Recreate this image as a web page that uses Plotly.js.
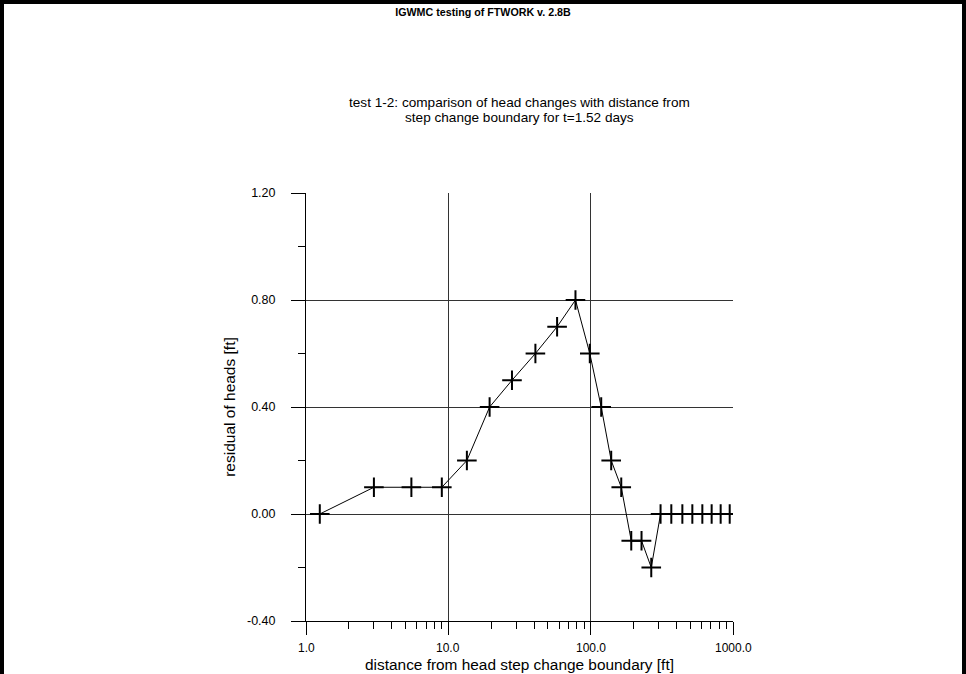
<!DOCTYPE html>
<html>
<head>
<meta charset="utf-8">
<script src="https://cdn.plot.ly/plotly-3.0.1.min.js"></script>
<style>
  html, body { margin: 0; padding: 0; background: #fff; }
  #wrap { position: relative; width: 966px; height: 674px; overflow: hidden; }
  #chart { width: 966px; height: 674px; }
  #frame { position: absolute; left: 0; top: 0; width: 966px; height: 700px; box-sizing: border-box;
           border: 4px solid #000; pointer-events: none; }
</style>
</head>
<body>
<div id="wrap">
  <div id="chart"></div>
  <div id="frame"></div>
</div>
<script>
// distance from head step change boundary [ft]
const distance = [1.25, 3.0, 5.5, 9.0, 13.5, 19.5, 28.0, 40.9, 58.1, 78.2, 98.6, 118.6, 139.4, 164, 192.8, 227.7, 266.5, 309.8, 368.6, 440.8, 518, 609, 708, 819, 948, 1110];
// residual of heads [ft]
const residual = [0.0, 0.1, 0.1, 0.1, 0.2, 0.4, 0.5, 0.6, 0.7, 0.8, 0.6, 0.4, 0.2, 0.1, -0.1, -0.1, -0.2, 0.0, 0.0, 0.0, 0.0, 0.0, 0.0, 0.0, 0.0, 0.0];

const xTickVals = [1, 10, 100, 1000];
const xTickText = ["1.0", "10.0", "100.0", "1000.0"];
const yTickVals = [-0.4, 0.0, 0.4, 0.8, 1.2];
const yTickText = ["-0.40", "0.00", "0.40", "0.80", "1.20"];

const mainTitle = "IGWMC testing of FTWORK v. 2.8B";
const subTitleLines = ["test 1-2: comparison of head changes with distance from", "step change boundary for t=1.52 days"];
const xTitle = "distance from head step change boundary [ft]";
const yTitle = "residual of heads [ft]";

const FONT = "Liberation Sans, Arial, sans-serif";

const trace = {
  x: distance,
  y: residual,
  type: "scatter",
  mode: "lines+markers",
  line: { color: "#000", width: 1 },
  marker: { symbol: "cross-thin", size: 14, color: "#000", line: { color: "#000", width: 2 } },
  cliponaxis: true,
  hoverinfo: "x+y"
};

const subY = [103, 117];
const annotations = subTitleLines.map((t, i) => ({
  text: t,
  xref: "paper", yref: "paper", x: 0.5, y: 1 + (193 - subY[i]) / 428,
  xanchor: "center", yanchor: "middle", showarrow: false,
  font: { family: FONT, size: 13.6, color: "#000" }, align: "center"
}));
// x tick labels placed through the x axis scale (log axis: position in log10 units)
xTickVals.forEach((v, i) => annotations.push({
  text: xTickText[i],
  xref: "x", yref: "paper", x: Math.log10(v), y: 0,
  xanchor: "center", yanchor: "middle", yshift: -27, showarrow: false,
  font: { family: FONT, size: 12, color: "#000" }
}));

const layout = {
  width: 966, height: 674,
  margin: { l: 306, r: 233, t: 193, b: 53 },
  paper_bgcolor: "#fff", plot_bgcolor: "#fff",
  showlegend: false,
  font: { family: FONT, color: "#000", size: 12 },
  title: {
    text: "<b>" + mainTitle + "</b>",
    font: { family: FONT, size: 10.7, color: "#000" },
    x: 0.5, xref: "container", xanchor: "center",
    y: 1 - 12 / 674, yref: "container", yanchor: "middle"
  },
  annotations: annotations,
  xaxis: {
    type: "log",
    range: [0, 3],
    tickvals: xTickVals,
    showticklabels: false,
    ticks: "outside", ticklen: 13, tickwidth: 1, tickcolor: "#000",
    showline: true, linecolor: "#000", linewidth: 1,
    showgrid: true, gridcolor: "#333", gridwidth: 1,
    zeroline: false,
    minor: { ticks: "outside", ticklen: 7, tickcolor: "#000", tickwidth: 1, dtick: "D1", showgrid: false },
    title: { text: xTitle, font: { family: FONT, size: 15.4, color: "#000" }, standoff: 25 }
  },
  yaxis: {
    range: [-0.4, 1.2],
    tickvals: yTickVals, ticktext: yTickText,
    ticks: "outside", ticklen: 14, tickwidth: 1, tickcolor: "#000",
    ticklabelstandoff: 13,
    showline: true, linecolor: "#000", linewidth: 1,
    showgrid: true, gridcolor: "#333", gridwidth: 1,
    zeroline: false,
    tickfont: { family: FONT, size: 12.5, color: "#000" },
    minor: { ticks: "outside", ticklen: 7, tickcolor: "#000", tickwidth: 1, dtick: 0.2, showgrid: false },
    title: { text: yTitle, font: { family: FONT, size: 15.5, color: "#000" }, standoff: 7 }
  }
};

Plotly.newPlot("chart", [trace], layout, { displayModeBar: false, staticPlot: true });
</script>
</body>
</html>
